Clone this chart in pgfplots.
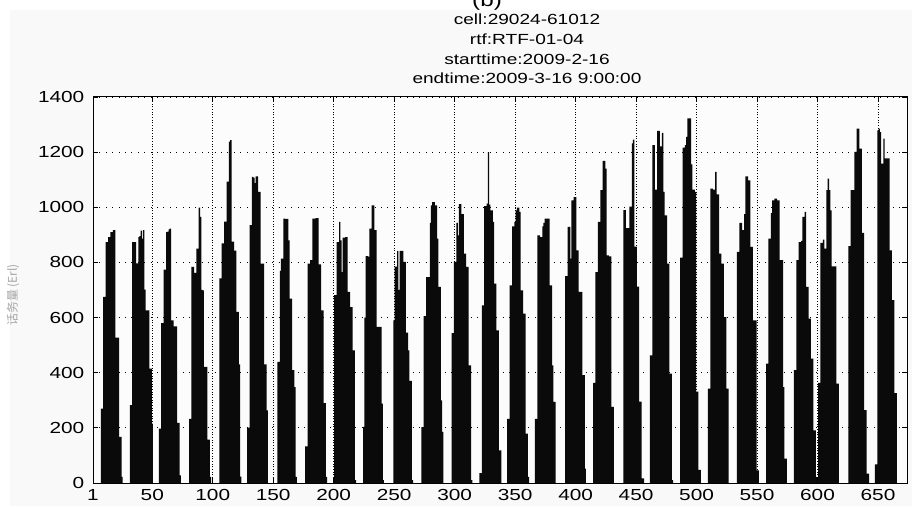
\documentclass[border=0pt]{standalone}
\usepackage{fontspec}
\setmainfont{Liberation Sans}[FakeStretch=1.3]
\newfontfamily\cjk{Noto Sans CJK SC}
\usepackage{pgfplots}
\pgfplotsset{compat=1.18}
\begin{document}
\begin{tikzpicture}[x=1pt,y=1pt]
% origin sits at the lower left corner of the axis box
\useasboundingbox (-69.75,-17.25) rectangle (614.25,362.25);
\fill[black!2.5] (-62.25,-17.25) rectangle (614.25,354.75);
\begin{axis}[
  at={(0,0)}, anchor=south west,
  scale only axis, width=610.5pt, height=289.5pt,
  xmin=1, xmax=674, ymin=0, ymax=1400,
  enlargelimits=false,
  axis background/.style={fill=black!1},
  xtick={1,50,100,150,200,250,300,350,400,450,500,550,600,650},
  ytick={0,200,400,600,800,1000,1200,1400},
  xtick pos=both, ytick pos=both,
  tick align=inside,
  major tick length=3.75pt,
  tick style={black, line width=0.6pt},
  axis line style={black, line width=0.75pt},
  grid=major,
  x grid style={black, line width=0.55pt, dash pattern=on 0.6pt off 1.4pt},
  y grid style={black, line width=0.55pt, dash pattern=on 0.6pt off 4.2pt},
  ticklabel style={font=\fontsize{12}{14}\selectfont},
  yticklabel style={xshift=-3pt},
  xticklabel style={yshift=-1.5pt},
  /pgf/number format/.cd, 1000 sep={}, assume math mode=true,
]
% hourly traffic, one line per day (zero hours omitted)
\addplot[ybar, bar width=1.15, fill=black!96, draw=none] coordinates {
(8,270)(9,270)(10,675)(11,675)(12,874)(13,874)(14,892)(15,892)(16,910)(17,910)(18,917)(19,917)(20,527)(21,527)(22,527)(23,167)(24,167)(25,22)
(32,282)(33,282)(34,874)(35,874)(36,874)(37,797)(38,797)(39,892)(40,895)(41,915)(42,886)(43,917)(44,701)(45,626)(46,626)(47,626)(48,415)(49,415)(50,215)
(56,197)(57,197)(58,580)(59,580)(60,774)(61,774)(62,910)(63,912)(64,920)(65,923)(66,590)(67,590)(68,568)(69,568)(70,568)(71,218)(72,218)(73,28)
(81,233)(82,233)(83,784)(84,784)(85,762)(86,762)(87,850)(88,850)(89,999)(90,965)(91,700)(92,699)(93,421)(94,421)(95,421)(96,157)(97,157)(98,22)
(106,742)(107,742)(108,869)(109,869)(110,948)(111,948)(112,1093)(113,1093)(114,1238)(115,1244)(116,875)(117,875)(118,843)(119,843)(120,621)(121,621)(122,430)(123,23)
(129,201)(130,201)(131,935)(132,935)(133,1110)(134,1108)(135,1088)(136,1112)(137,1112)(138,1056)(139,1056)(140,796)(141,796)(142,796)(143,430)(144,430)(145,263)
(154,439)(155,439)(156,769)(157,814)(158,814)(159,959)(160,958)(161,958)(162,958)(163,880)(164,669)(165,669)(166,409)(167,409)(168,348)(169,22)
(177,133)(178,133)(179,796)(180,796)(181,808)(182,808)(183,959)(184,959)(185,960)(186,961)(187,961)(188,793)(189,793)(190,626)(191,626)(192,290)(193,290)(194,22)
(201,681)(202,681)(203,874)(204,874)(205,947)(206,880)(207,765)(208,890)(209,890)(210,892)(211,892)(212,693)(213,693)(214,638)(215,638)(216,481)(217,481)(218,10)
(225,204)(226,600)(227,823)(228,823)(229,820)(230,923)(231,923)(232,1007)(233,1007)(234,917)(235,917)(236,566)(237,566)(238,566)(239,566)(240,288)(241,10)
(250,590)(251,785)(252,785)(253,842)(254,700)(255,842)(256,842)(257,842)(258,802)(259,802)(260,545)(261,545)(262,481)(263,370)(264,370)(265,10)
(273,203)(274,203)(275,605)(276,605)(277,747)(278,747)(279,747)(280,943)(281,1007)(282,1019)(283,1019)(284,1007)(285,1007)(286,886)(287,711)(288,711)(289,300)(290,185)
(298,544)(299,544)(300,802)(301,802)(302,943)(303,898)(304,1011)(305,1011)(306,975)(307,975)(308,832)(309,832)(310,784)(311,784)(312,427)(313,427)(314,10)
(321,36)(322,36)(323,644)(324,644)(325,1004)(326,1004)(327,1013)(328,1200)(329,1010)(330,989)(331,989)(332,947)(333,723)(334,723)(335,554)(336,554)(337,118)(338,118)
(344,233)(345,233)(346,717)(347,717)(348,931)(349,931)(350,947)(351,989)(352,999)(353,999)(354,983)(355,699)(356,699)(357,614)(358,614)(359,179)(360,179)(361,22)
(367,233)(368,233)(369,898)(370,898)(371,892)(372,892)(373,931)(374,943)(375,959)(376,959)(377,959)(378,959)(379,717)(380,717)(381,427)(382,294)(383,294)
(392,750)(393,750)(394,929)(395,929)(396,814)(397,1025)(398,1025)(399,1037)(400,1037)(401,844)(402,844)(403,693)(404,693)(405,693)(406,391)(407,391)(408,52)
(415,363)(416,363)(417,765)(418,765)(419,947)(420,947)(421,1062)(422,1062)(423,1168)(424,1168)(425,1140)(426,826)(427,826)(428,822)(429,822)(430,276)(431,276)
(440,990)(441,990)(442,924)(443,924)(444,924)(445,1002)(446,1002)(447,1232)(448,1245)(449,857)(450,857)(451,712)(452,712)(453,295)(454,295)(455,17)(456,17)
(462,463)(463,463)(464,1225)(465,1225)(466,1064)(467,1064)(468,1277)(469,1277)(470,1221)(471,1221)(472,1270)(473,1056)(474,971)(475,971)(476,796)(477,796)(478,397)(479,397)(480,10)
(487,817)(488,817)(489,1216)(490,1216)(491,1225)(492,1255)(493,1322)(494,1322)(495,1322)(496,1156)(497,1064)(498,1064)(499,1056)(500,331)(501,331)(502,48)(503,48)
(510,342)(511,342)(512,1068)(513,1068)(514,1064)(515,1064)(516,1128)(517,1047)(518,1047)(519,832)(520,832)(521,796)(522,796)(523,602)(524,602)(525,342)(526,342)
(534,838)(535,838)(536,943)(537,943)(538,917)(539,917)(540,975)(541,1112)(542,1112)(543,1098)(544,1098)(545,856)(546,856)(547,590)(548,590)(549,590)(550,46)(551,46)
(558,433)(559,433)(560,886)(561,886)(562,979)(563,1025)(564,1025)(565,1031)(566,1031)(567,1025)(568,1025)(569,808)(570,808)(571,808)(572,348)(573,88)(574,88)
(581,409)(582,409)(583,808)(584,808)(585,874)(586,874)(587,878)(588,965)(589,965)(590,983)(591,711)(592,711)(593,596)(594,596)(595,451)(596,451)(597,191)(598,191)(599,22)
(601,363)(602,363)(603,871)(604,871)(605,883)(606,850)(607,850)(608,1062)(609,1104)(610,1062)(611,989)(612,786)(613,786)(614,786)(615,786)(616,360)(617,360)
(626,859)(627,859)(628,1062)(629,1062)(630,1062)(631,1201)(632,1201)(633,1285)(634,1285)(635,1213)(636,1213)(637,907)(638,907)(639,264)(640,264)(641,34)(642,34)
(648,68)(649,68)(650,1279)(651,1285)(652,1273)(653,1158)(654,1158)(655,1249)(656,1177)(657,1177)(658,1177)(659,1177)(660,844)(661,844)(662,663)(663,663)(664,326)(665,326)
};
\end{axis}
% stacked title lines above the axis box (top edge at y = 289.5)
\begin{scope}[every node/.style={anchor=base, inner sep=0pt, font=\fontsize{11}{13}\selectfont}]
\node at (295.5,357) {\fontsize{14}{16}\selectfont (b)};
\node at (325.5,343.5) {cell:29024-61012};
\node at (325.5,328.5) {rtf:RTF-01-04};
\node at (325.5,314) {starttime:2009-2-16};
\node at (325.5,299.25) {endtime:2009-3-16 9:00:00};
\end{scope}
\node[rotate=90, text=black!35, font=\cjk\fontsize{9}{10}\selectfont, inner sep=0pt] at (-60,141) {话务量 (Erl)};
\end{tikzpicture}
\end{document}
